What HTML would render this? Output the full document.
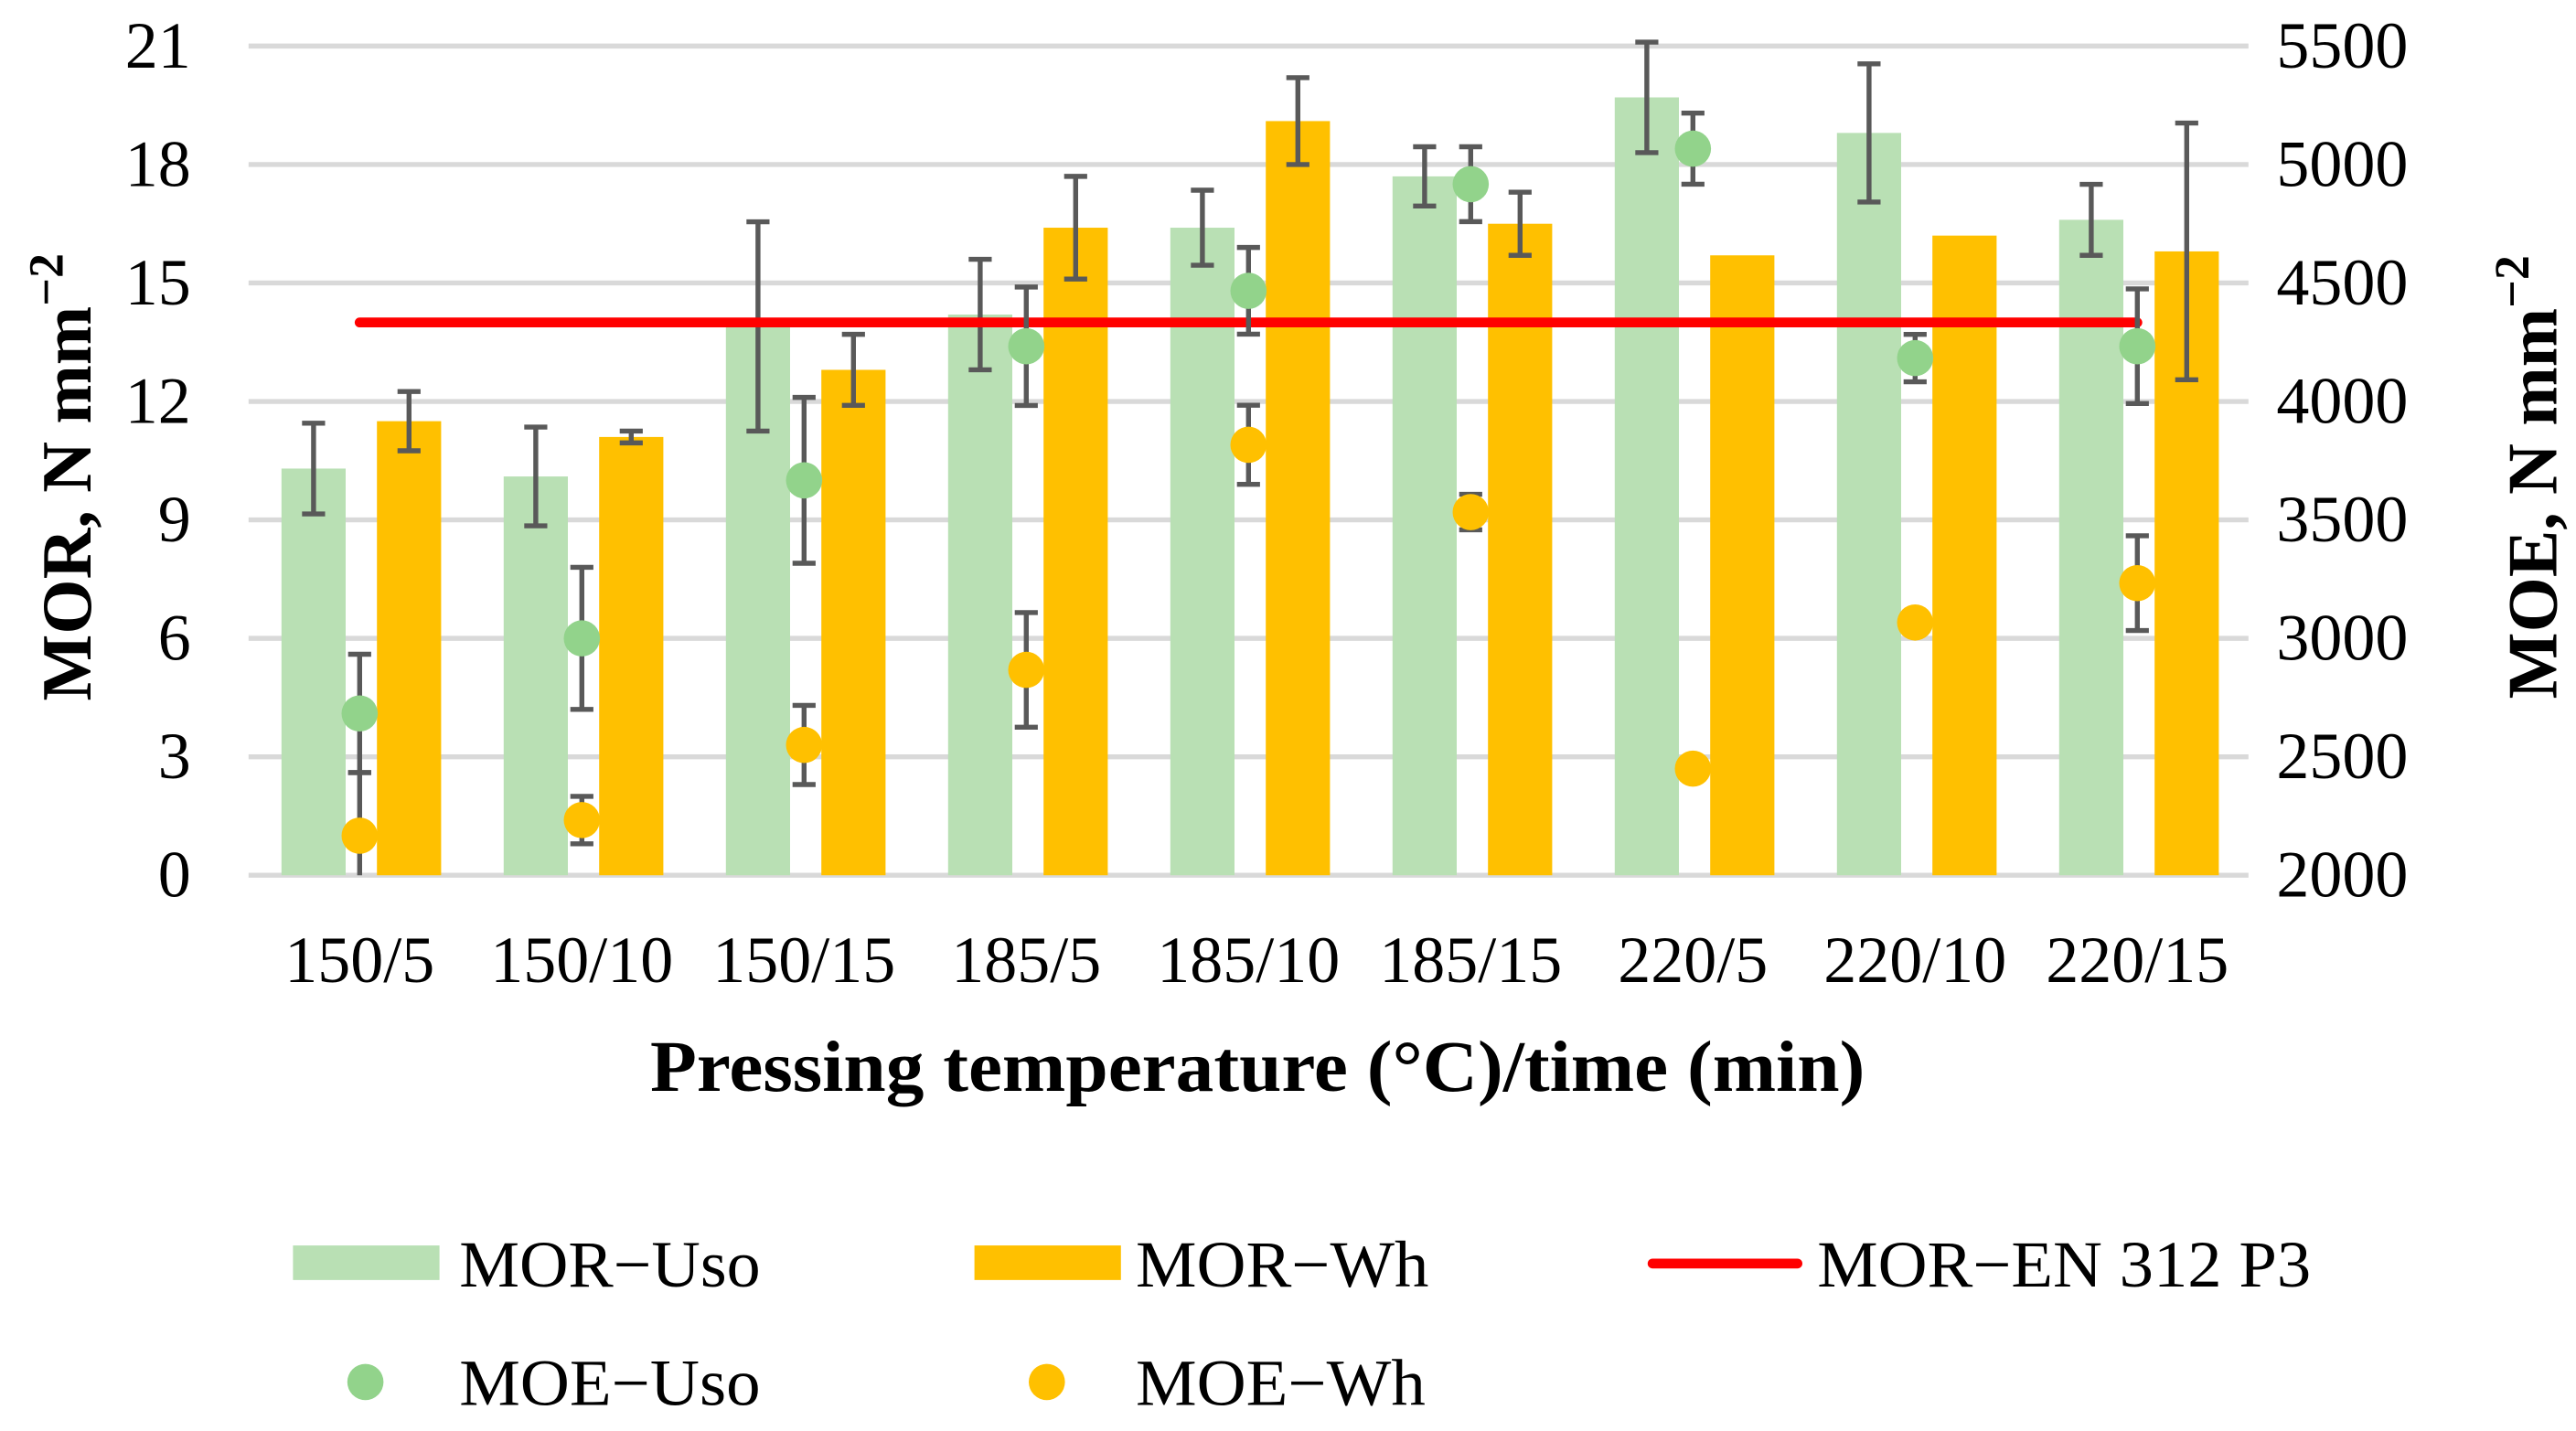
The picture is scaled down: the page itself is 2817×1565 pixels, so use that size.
<!DOCTYPE html>
<html><head><meta charset="utf-8"><style>
html,body{margin:0;padding:0;background:#fff;}
svg, svg text{font-family:"Liberation Serif","Times New Roman",serif;}
</style></head><body>
<svg id="chart" width="2817" height="1560" viewBox="0 0 1565 867" preserveAspectRatio="none" xmlns="http://www.w3.org/2000/svg" font-family="Liberation Serif, serif">
<g id="grid"></g>
<g id="marks"></g>
<g id="axes"></g>
<text x="764" y="663" font-size="44" font-weight="bold" text-anchor="middle" textLength="738" lengthAdjust="spacingAndGlyphs">Pressing temperature (°C)/time (min)</text>
<text transform="translate(55,290) rotate(-90)" font-size="43" font-weight="bold" text-anchor="middle">MOR, N mm<tspan dy="-17" font-size="30">−2</tspan></text>
<text transform="translate(1553,290) rotate(-90)" font-size="43" font-weight="bold" text-anchor="middle">MOE, N mm<tspan dy="-17" font-size="30">−2</tspan></text>
<g font-size="40">
<rect x="178" y="757" width="89" height="21" fill="#B9E0B4"/>
<text x="279" y="782" textLength="183" lengthAdjust="spacingAndGlyphs">MOR−Uso</text>
<rect x="592" y="757" width="89" height="21" fill="#FFC000"/>
<text x="690" y="782" textLength="178" lengthAdjust="spacingAndGlyphs">MOR−Wh</text>
<line x1="1004" y1="768" x2="1092" y2="768" stroke="#FF0000" stroke-width="6" stroke-linecap="round"/>
<text x="1104" y="782" textLength="300" lengthAdjust="spacingAndGlyphs">MOR−EN 312 P3</text>
<circle cx="222" cy="840" r="11" fill="#92D38B"/>
<text x="279" y="854" textLength="183" lengthAdjust="spacingAndGlyphs">MOE−Uso</text>
<circle cx="636" cy="840" r="11" fill="#FFC000"/>
<text x="690" y="854" textLength="176" lengthAdjust="spacingAndGlyphs">MOE−Wh</text>
</g>
</svg>
<script>
const categories = ["150/5","150/10","150/15","185/5","185/10","185/15","220/5","220/10","220/15"];
const morUso = [10.3,10.1,13.9,14.2,16.4,17.7,19.7,18.8,16.6];
const morUsoErr = [1.15,1.25,2.65,1.4,0.95,0.75,1.4,1.75,0.9];
const morWh = [11.5,11.1,12.8,16.4,19.1,16.5,15.7,16.2,15.8];
const morWhErr = [0.75,0.15,0.9,1.3,1.1,0.8,0,0,3.25];
const moeUso = [2683,3000,3667,4233,4467,4917,5067,4183,4233];
const moeUsoErr = [250,300,350,250,183,158,150,100,242];
const moeWh = [2167,2233,2550,2867,3817,3533,2450,3067,3233];
const moeWhErr = [267,100,167,242,167,75,0,0,200];
const morStandard = 14;
const morTicks = [0,3,6,9,12,15,18,21];
const moeTicks = [2000,2500,3000,3500,4000,4500,5000,5500];

const NS="http://www.w3.org/2000/svg";
const X0=151,X1=1366,Y0=532,Y1=28;
const groupW=(X1-X0)/categories.length;
const xc=i=>X0+groupW*(i+0.5);
const yMor=v=>Y0-(v/21)*(Y0-Y1);
const yMoe=v=>Y0-((v-2000)/3500)*(Y0-Y1);
function mk(tag,attrs,parent){const e=document.createElementNS(NS,tag);for(const k in attrs)e.setAttribute(k,attrs[k]);parent.appendChild(e);return e;}
const grid=document.getElementById('grid'),marks=document.getElementById('marks'),axes=document.getElementById('axes');
morTicks.forEach((t,i)=>{
  const l=mk('line',{x1:X0,x2:X1,y1:yMor(t),y2:yMor(t),stroke:'#D9D9D9','stroke-width':3},grid);
  
  
  const tx=mk('text',{x:116,y:yMor(t)+13,'font-size':40,'text-anchor':'end'},axes);tx.textContent=t;
  
  
});
moeTicks.forEach(t=>{
  const tx=mk('text',{x:1383,y:yMoe(t)+13,'font-size':40},axes);tx.textContent=t;
  
  
});
categories.forEach((c,i)=>{
  const tx=mk('text',{x:xc(i),y:597,'font-size':40,'text-anchor':'middle'},axes);tx.textContent=c;
  
  
});
function errBar(x,yTop,yBot,capBottom){
  const g=mk('g',{stroke:'#595959','stroke-width':3},marks);
  
  
  mk('line',{x1:x,x2:x,y1:yTop,y2:yBot},g);
  mk('line',{x1:x-7,x2:x+7,y1:yTop,y2:yTop},g);
  if(capBottom)mk('line',{x1:x-7,x2:x+7,y1:yBot,y2:yBot},g);
}
const BW=39;
categories.forEach((c,i)=>{
  const xg=xc(i)-28,xo=xc(i)+30;
  const b1=mk('rect',{x:xg-BW/2,y:yMor(morUso[i]),width:BW,height:Y0-yMor(morUso[i]),fill:'#B9E0B4'},marks);
  
  
  const b2=mk('rect',{x:xo-BW/2,y:yMor(morWh[i]),width:BW,height:Y0-yMor(morWh[i]),fill:'#FFC000'},marks);
  
  
});
categories.forEach((c,i)=>{
  const xg=xc(i)-28,xo=xc(i)+30;
  if(morUsoErr[i]>0)errBar(xg,yMor(morUso[i]+morUsoErr[i]),yMor(morUso[i]-morUsoErr[i]),true);
  if(morWhErr[i]>0)errBar(xo,yMor(morWh[i]+morWhErr[i]),yMor(morWh[i]-morWhErr[i]),true);
});
const ln=mk('line',{x1:xc(0),x2:xc(categories.length-1),y1:yMor(morStandard),y2:yMor(morStandard),stroke:'#FF0000','stroke-width':6,'stroke-linecap':'round'},marks);


categories.forEach((c,i)=>{
  const x=xc(i);
  if(moeUsoErr[i]>0)errBar(x,yMoe(moeUso[i]+moeUsoErr[i]),yMoe(moeUso[i]-moeUsoErr[i]),true);
  if(moeWhErr[i]>0){const lo=moeWh[i]-moeWhErr[i];errBar(x,yMoe(moeWh[i]+moeWhErr[i]),yMoe(Math.max(lo,2000)),lo>=2000);}
  const p1=mk('circle',{cx:x,cy:yMoe(moeUso[i]),r:11,fill:'#92D38B'},marks);
  
  
  const p2=mk('circle',{cx:x,cy:yMoe(moeWh[i]),r:11,fill:'#FFC000'},marks);
  
  
});
</script>
</body></html>
